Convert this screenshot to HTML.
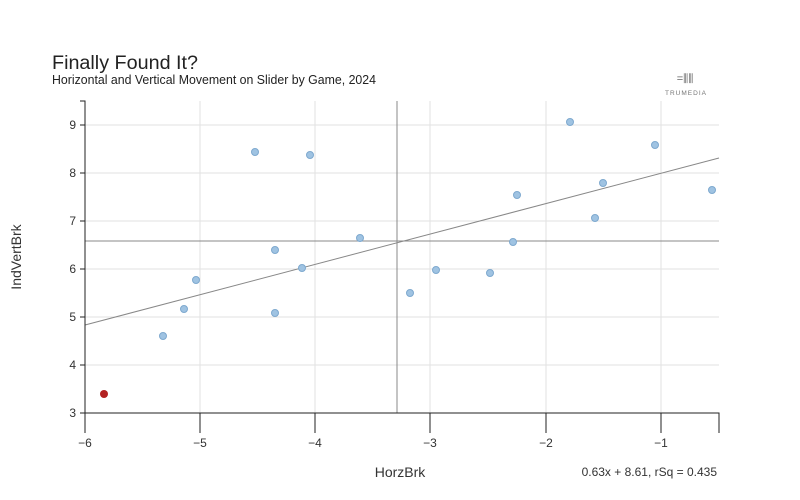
<!DOCTYPE html>
<html><head><style>body{margin:0;background:#fff}svg{display:block;font-family:"Liberation Sans",sans-serif}</style></head><body>
<svg width="800" height="500" viewBox="0 0 800 500">
<text x="52" y="69" font-size="19" fill="#222" textLength="146" lengthAdjust="spacingAndGlyphs">Finally Found It?</text>
<text x="52" y="84" font-size="12.5" fill="#222" textLength="324" lengthAdjust="spacingAndGlyphs">Horizontal and Vertical Movement on Slider by Game, 2024</text>
<text x="685" y="82" font-size="11" fill="#666" text-anchor="middle">=⫼⫼</text>
<text x="686" y="95" font-size="6.5" fill="#777" text-anchor="middle" letter-spacing="1">TRUMEDIA</text>
<g stroke="#e2e2e2" stroke-width="1">
<line x1="200" y1="101" x2="200" y2="413"/><line x1="315" y1="101" x2="315" y2="413"/><line x1="430" y1="101" x2="430" y2="413"/><line x1="546" y1="101" x2="546" y2="413"/><line x1="661" y1="101" x2="661" y2="413"/>
<line x1="85" y1="125" x2="719" y2="125"/><line x1="85" y1="173" x2="719" y2="173"/><line x1="85" y1="221" x2="719" y2="221"/><line x1="85" y1="269" x2="719" y2="269"/><line x1="85" y1="317" x2="719" y2="317"/><line x1="85" y1="365" x2="719" y2="365"/>
</g>
<g stroke="#888" stroke-width="1">
<line x1="397" y1="101" x2="397" y2="413"/><line x1="85" y1="241" x2="719" y2="241"/>
<line x1="85" y1="325" x2="719" y2="158"/>
</g>
<g stroke="#222" stroke-width="1" fill="none">
<path d="M80 101H85V413H719V433"/>
<path d="M80 125H85M80 173H85M80 221H85M80 269H85M80 317H85M80 365H85M80 413H85"/>
<path d="M85 413V433M200 413V433M315 413V433M430 413V433M546 413V433M661 413V433"/>
</g>
<g font-size="12" fill="#333" text-anchor="end">
<text x="76" y="129">9</text><text x="76" y="177">8</text><text x="76" y="225">7</text><text x="76" y="273">6</text><text x="76" y="321">5</text><text x="76" y="369">4</text><text x="76" y="417">3</text>
</g>
<g font-size="12" fill="#333" text-anchor="middle">
<text x="85" y="447">−6</text><text x="200" y="447">−5</text><text x="315" y="447">−4</text><text x="430" y="447">−3</text><text x="546" y="447">−2</text><text x="661" y="447">−1</text>
</g>
<text x="400" y="477" font-size="14" fill="#333" text-anchor="middle">HorzBrk</text>
<text x="717" y="476" font-size="12" fill="#333" text-anchor="end">0.63x + 8.61, rSq = 0.435</text>
<text transform="translate(21,257) rotate(-90)" font-size="14" fill="#333" text-anchor="middle">IndVertBrk</text>
<g fill="#9fc3e2" stroke="#7ea9cf" stroke-width="1">
<circle cx="163" cy="336" r="3.5"/><circle cx="184" cy="309" r="3.5"/><circle cx="196" cy="280" r="3.5"/><circle cx="255" cy="152" r="3.5"/><circle cx="275" cy="250" r="3.5"/><circle cx="275" cy="313" r="3.5"/><circle cx="302" cy="268" r="3.5"/><circle cx="310" cy="155" r="3.5"/><circle cx="360" cy="238" r="3.5"/><circle cx="410" cy="293" r="3.5"/><circle cx="436" cy="270" r="3.5"/><circle cx="490" cy="273" r="3.5"/><circle cx="513" cy="242" r="3.5"/><circle cx="517" cy="195" r="3.5"/><circle cx="570" cy="122" r="3.5"/><circle cx="595" cy="218" r="3.5"/><circle cx="603" cy="183" r="3.5"/><circle cx="655" cy="145" r="3.5"/><circle cx="712" cy="190" r="3.5"/>
</g>
<circle cx="104" cy="394" r="4" fill="#b22222"/>
</svg>
</body></html>
